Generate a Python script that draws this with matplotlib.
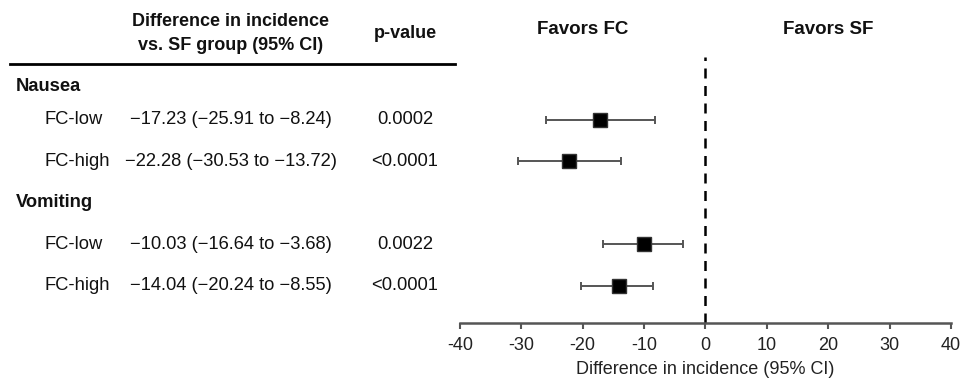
import matplotlib
matplotlib.use("Agg")
import matplotlib.pyplot as plt
from matplotlib.transforms import blended_transform_factory

plt.rcParams['font.family'] = ['Liberation Sans', 'DejaVu Sans']

groups = ["Nausea", "Vomiting"]
subgroups = ["FC-low", "FC-high"]
estimates = [[-17.23, -22.28], [-10.03, -14.04]]
lower = [[-25.91, -30.53], [-16.64, -20.24]]
upper = [[-8.24, -13.72], [-3.68, -8.55]]
ci_text = [["\u221217.23 (\u221225.91 to \u22128.24)", "\u221222.28 (\u221230.53 to \u221213.72)"],
           ["\u221210.03 (\u221216.64 to \u22123.68)", "\u221214.04 (\u221220.24 to \u22128.55)"]]
p_values = [["0.0002", "<0.0001"], ["0.0022", "<0.0001"]]
xticks = [-40, -30, -20, -10, 0, 10, 20, 30, 40]

W, H = 979, 380
fig = plt.figure(figsize=(W / 100, H / 100), dpi=100)

ax = fig.add_axes([460 / W, 1 - 323 / H, (951 - 460) / W, 323 / H])
ax.set_xlim(-40, 40)
step = 41.5
top0 = 78.0
ax.set_ylim((323 - top0) / step, -top0 / step)

for s in ["top", "right", "left"]:
    ax.spines[s].set_visible(False)
ax.spines["bottom"].set_color("#555555")
ax.spines["bottom"].set_linewidth(1.8)
ax.set_yticks([])
ax.set_xticks(xticks)
ax.set_xticklabels([str(t) for t in xticks])
ax.tick_params(axis="x", direction="out", length=4, width=1.5, color="#555555",
               labelsize=13, labelcolor="#222222", pad=6)
ax.set_xlabel("Difference in incidence (95% CI)", fontsize=13, color="#222222", labelpad=5)

ax.axvline(0, ymin=0, ymax=(323 - 57) / 323, color="black", linestyle=(0, (4, 3)), lw=1.8)

trans = blended_transform_factory(fig.transFigure, ax.transData)
group_offsets = [0.2, 0.0]
fs = 13.2
row = 0
for gi, g in enumerate(groups):
    ax.text(16 / W, row + group_offsets[gi], g, transform=trans, fontsize=fs, fontweight="bold",
            ha="left", va="center", color="#111111")
    row += 1
    for si, sg in enumerate(subgroups):
        ax.errorbar(estimates[gi][si], row,
                    xerr=[[estimates[gi][si] - lower[gi][si]], [upper[gi][si] - estimates[gi][si]]],
                    fmt="none", ecolor="#555555", elinewidth=1.4, capsize=3, capthick=1.4)
        ax.plot(estimates[gi][si], row, marker="s", markersize=10.5, color="black",
                markeredgecolor="#333333", linestyle="none")
        ax.text(45 / W, row, sg, transform=trans, fontsize=fs, ha="left", va="center", color="#111111")
        ax.text(231 / W, row, ci_text[gi][si], transform=trans, fontsize=fs, ha="center",
                va="center", color="#111111")
        ax.text(405 / W, row, p_values[gi][si], transform=trans, fontsize=fs, ha="center",
                va="center", color="#111111")
        row += 1

fig.text(231 / W, 1 - 21 / H, "Difference in incidence", fontsize=13, fontweight="bold",
         ha="center", va="center", color="#111111")
fig.text(231 / W, 1 - 45 / H, "vs. SF group (95% CI)", fontsize=13, fontweight="bold",
         ha="center", va="center", color="#111111")
fig.text(405 / W, 1 - 33 / H, "p-value", fontsize=13, fontweight="bold",
         ha="center", va="center", color="#111111")
fig.text(583 / W, 1 - 29 / H, "Favors FC", fontsize=13.5, fontweight="bold",
         ha="center", va="center", color="#111111")
fig.text(828 / W, 1 - 29 / H, "Favors SF", fontsize=13.5, fontweight="bold",
         ha="center", va="center", color="#111111")

fig.add_artist(plt.Line2D([10 / W, 455 / W], [1 - 64 / H, 1 - 64 / H], color="black", lw=2,
                          transform=fig.transFigure))

fig.savefig("out.png", dpi=100, facecolor="white")
